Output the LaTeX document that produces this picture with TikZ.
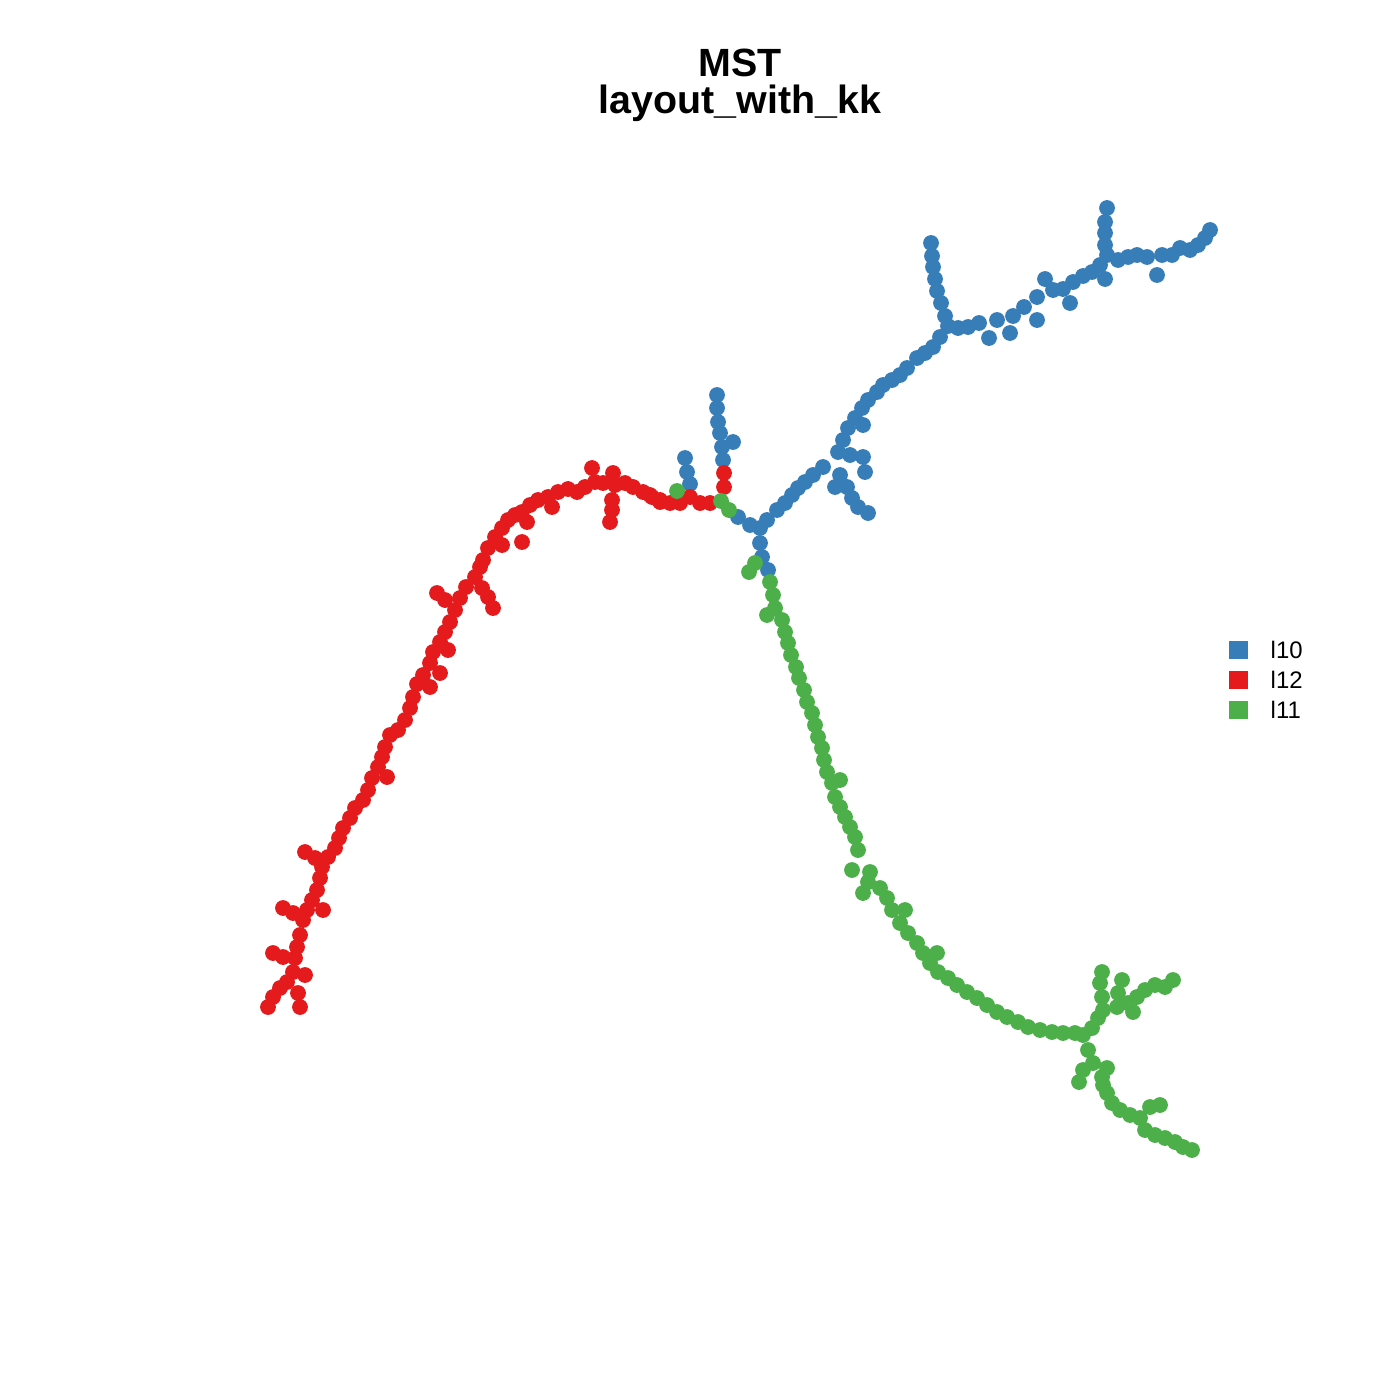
\documentclass[tikz,border=0pt]{standalone}
\usepackage{fontspec}
\setmainfont{Liberation Sans}
\definecolor{cblue}{HTML}{377EB8}
\definecolor{cred}{HTML}{E41A1C}
\definecolor{cgreen}{HTML}{4DAF4A}
\begin{document}
\begin{tikzpicture}[x=0.01cm,y=-0.01cm,
  dotb/.style={fill=cblue},
  dotr/.style={fill=cred},
  dotg/.style={fill=cgreen},
  legtext/.style={anchor=west,inner sep=0pt,font=\fontsize{6.8}{8}\selectfont},
  titletext/.style={font=\fontsize{11.2}{13}\selectfont\bfseries,inner sep=0pt}]
\useasboundingbox (0,0) rectangle (1400,1400);
% blue
\foreach \x/\y in {931/243,932/256,933/267,935/279,937/291,941/303,945/316,948/326,
958/328,968/327,979/323,989/338,997/320,1010/333,1013/316,1024/307,1037/320,1037/297,1045/279,1053/290,1063/289,1070/303,1073/282,1083/276,1092/272,1100/265,1105/279,1107/255,1107/208,1105/222,1105/233,1105/245,1118/260,1128/257,1137/255,1147/257,1157/275,1162/255,1172/255,1180/248,1190/250,1198/245,1205/238,1210/230,
940/337,933/347,925/353,917/358,
907/368,900/375,892/380,883/385,877/392,868/400,862/408,855/418,848/428,843/440,838/452,863/425,
850/455,863/457,865/472,840/475,835/487,847/487,852/498,858/507,868/513,
823/467,813/475,805/482,798/488,792/495,785/503,777/510,767/520,760/528,760/543,762/557,768/570,
750/525,738/517,
717/395,717/408,718/422,720/433,722/447,733/442,723/460,
685/458,687/472,690/484}
  \path[dotb] (\x,\y) circle[radius=0.079cm];
% red
\foreach \x/\y in {724/473,724/487,
650/495,660/500,670/503,680/503,690/497,700/503,710/503,
483/560,488/548,495/537,502/528,508/520,515/515,522/512,530/505,538/500,548/497,558/492,568/489,577/492,585/487,592/468,595/482,603/483,613/473,615/485,612/500,612/510,610/522,625/483,633/487,643/492,652/497,660/502,
522/542,502/545,527/522,552/507,
480/567,475/577,466/587,460/598,455/610,450/622,445/632,440/642,433/652,430/663,423/675,417/684,413/697,410/708,405/720,398/730,390/735,385/747,382/757,
437/593,445/600,482/588,488/597,493/608,448/650,440/673,430/687,
378/767,372/778,387/777,368/790,
363/800,355/808,350/818,343/828,339/838,335/848,328/857,322/867,320/878,317/890,312/900,307/910,303/920,300/935,297/947,295/958,293/972,287/982,280/988,273/997,268/1007,298/993,300/1007,
305/852,315/858,323/910,283/908,293/913,273/953,283/957,305/975}
  \path[dotr] (\x,\y) circle[radius=0.079cm];
% green
\foreach \x/\y in {677/491,721/501,729/510,755/563,749/572,
770/582,773/595,775/608,767/615,782/620,785/632,788/643,791/655,796/667,799/678,804/690,807/702,812/713,815/725,818/737,822/748,824/760,827/772,832/783,840/780,835/797,840/807,845/817,850/827,855/837,
858/850,852/870,870/872,868/882,863/893,880/888,887/898,892/910,905/910,900/923,908/933,917/943,923/953,937/953,930/963,938/972,948/978,957/985,967/992,977/998,987/1005,997/1012,1007/1017,1018/1022,1028/1027,1040/1030,1052/1032,1063/1033,1075/1033,1083/1035,
1092/1028,1098/1018,1103/1010,1102/997,1100/983,1102/972,1117/1007,1118/993,1122/980,1128/1003,1133/1012,1137/997,1145/990,1155/985,1165/987,1173/980,
1088/1050,1083/1070,1079/1082,1093/1063,1107/1068,1102/1077,1103/1085,1107/1093,1112/1103,1120/1110,1130/1115,1140/1118,1150/1107,1160/1105,1145/1130,1155/1135,1165/1138,1175/1142,1183/1147,1192/1150}
  \path[dotg] (\x,\y) circle[radius=0.079cm];
% title
\node[titletext] (t1) at (740,63) {MST};
\node[titletext] (t2) at (740,103) {layout\_with\_kk};
% legend
\path[dotb] (1229,641) rectangle (1248,659);
\path[dotr] (1229,671) rectangle (1248,689);
\path[dotg] (1229,701) rectangle (1248,719);
\node[legtext] (l1) at (1270,650) {l10};
\node[legtext] (l2) at (1270,680) {l12};
\node[legtext] (l3) at (1270,710) {l11};
\end{tikzpicture}
\end{document}
